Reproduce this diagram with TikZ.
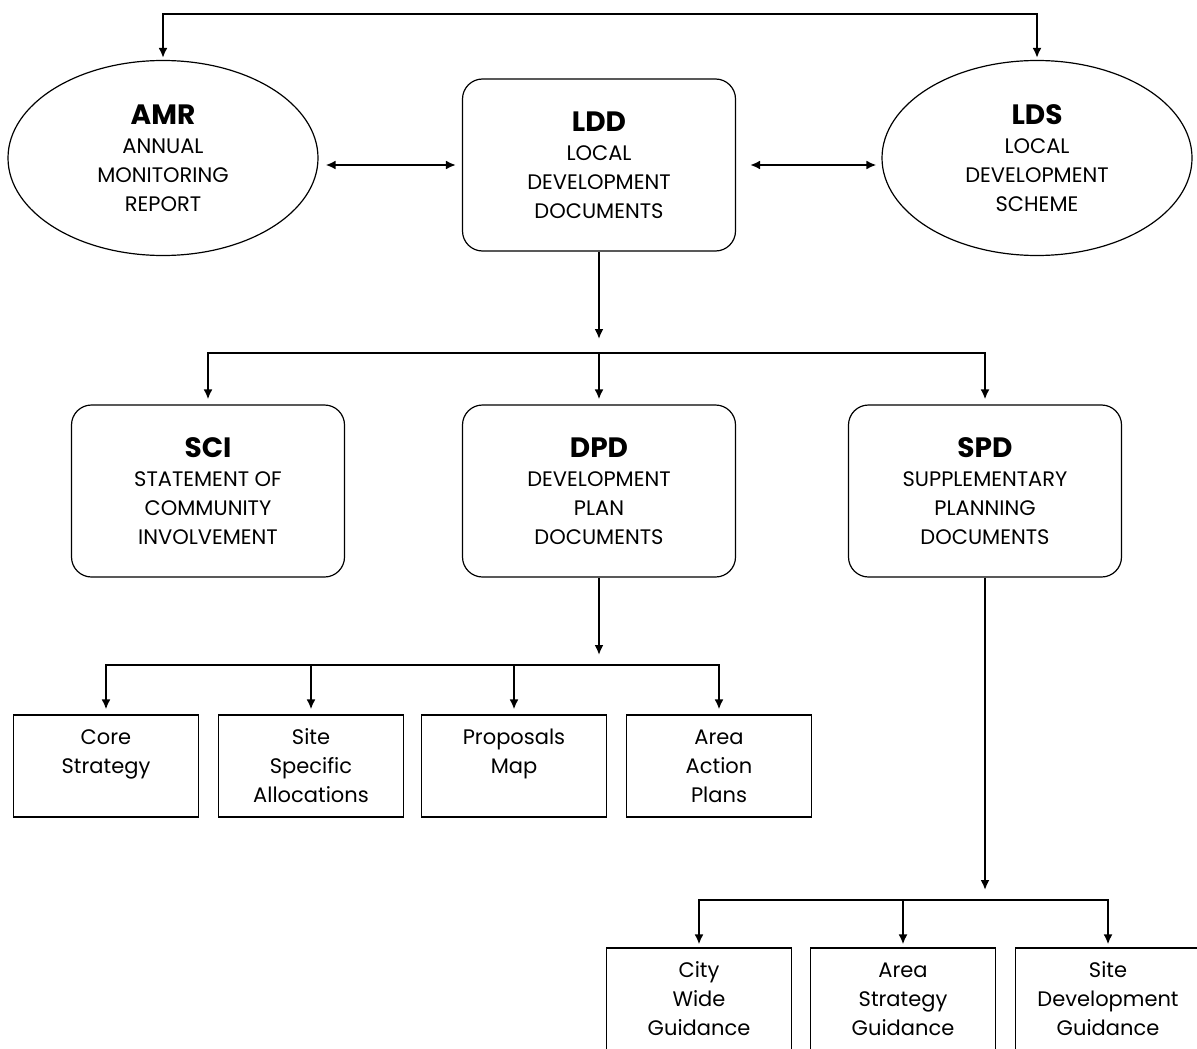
\documentclass[tikz,border=0pt]{standalone}
\usepackage{fontspec}
\setmainfont{Poppins}
\usetikzlibrary{arrows.meta,shapes.geometric}

\newcommand{\bodyfont}{\fontsize{10.5pt}{14.5pt}\selectfont}
\newcommand{\abbr}[1]{{\fontsize{14pt}{15pt}\selectfont\bfseries #1}}

\tikzset{
  arr/.style={-{Latex[length=5pt,width=4.5pt]},line width=1pt},
  dblarr/.style={{Latex[length=5pt,width=4.5pt]}-{Latex[length=5pt,width=4.5pt]},line width=1pt},
  docbox/.style={draw,line width=0.6pt,rounded corners=10pt,minimum width=136.5pt,
    minimum height=86pt,align=center,font=\bodyfont},
  oval/.style={draw,line width=0.6pt,ellipse,inner sep=0pt,minimum width=155pt,
    minimum height=97.5pt,align=center,font=\bodyfont},
  leaf/.style={draw,line width=0.6pt,minimum width=92.5pt,minimum height=51pt,
    align=center,font=\bodyfont},
}

\begin{document}
\begin{tikzpicture}[x=0.5pt,y=-0.5pt]
  \useasboundingbox (0,0) rectangle (1197,1048);

  % top level
  \node[oval] (amr) at (163,158) {\abbr{AMR}\\ANNUAL\\MONITORING\\REPORT};
  \node[docbox] (ldd) at (599,165) {\abbr{LDD}\\LOCAL\\DEVELOPMENT\\DOCUMENTS};
  \node[oval] (lds) at (1037,158) {\abbr{LDS}\\LOCAL\\DEVELOPMENT\\SCHEME};

  % second level
  \node[docbox] (sci) at (208,491) {\abbr{SCI}\\STATEMENT OF\\COMMUNITY\\INVOLVEMENT};
  \node[docbox] (dpd) at (599,491) {\abbr{DPD}\\DEVELOPMENT\\PLAN\\DOCUMENTS};
  \node[docbox] (spd) at (985,491) {\abbr{SPD}\\SUPPLEMENTARY\\PLANNING\\DOCUMENTS};

  % development plan documents
  \node[leaf] (core) at (106,766) {Core\\Strategy\\~};
  \node[leaf] (site) at (311,766) {Site\\Specific\\Allocations};
  \node[leaf] (prop) at (514,766) {Proposals\\Map\\~};
  \node[leaf] (area) at (719,766) {Area\\Action\\Plans};

  % supplementary planning documents
  \node[leaf] (city) at (699,999) {City\\Wide\\Guidance};
  \node[leaf] (areastr) at (903,999) {Area\\Strategy\\Guidance};
  \node[leaf] (sitedev) at (1108,999) {Site\\Development\\Guidance};

  % connectors
  \coordinate (topbar) at (600,14);
  \draw[dblarr,shorten <=1pt,shorten >=1pt] (amr.north) |- (topbar) -| (lds.north);
  \draw[dblarr,shorten <=3.5pt,shorten >=3pt] (amr.east |- ldd.west) -- (ldd.west);
  \draw[dblarr,shorten <=7pt,shorten >=2.5pt] (ldd.east) -- (ldd.east -| lds.west);

  \coordinate (lddbus) at (600,353);
  \draw[arr,shorten >=7pt] (ldd.south) -- (ldd.south |- lddbus);
  \foreach \n in {sci,dpd,spd}
    \draw[arr,shorten >=2.5pt] (lddbus) -| (\n.north);

  \coordinate (dpdbus) at (600,665);
  \draw[arr,shorten >=5pt] (dpd.south) -- (dpd.south |- dpdbus);
  \foreach \n in {core,site,prop,area}
    \draw[arr,shorten >=2.5pt] (dpdbus) -| (\n.north);

  \coordinate (spdbus) at (985,900);
  \draw[arr,shorten >=5pt] (spd.south) -- (spd.south |- spdbus);
  \foreach \n in {city,areastr,sitedev}
    \draw[arr,shorten >=1.5pt] (spdbus) -| (\n.north);
\end{tikzpicture}
\end{document}
